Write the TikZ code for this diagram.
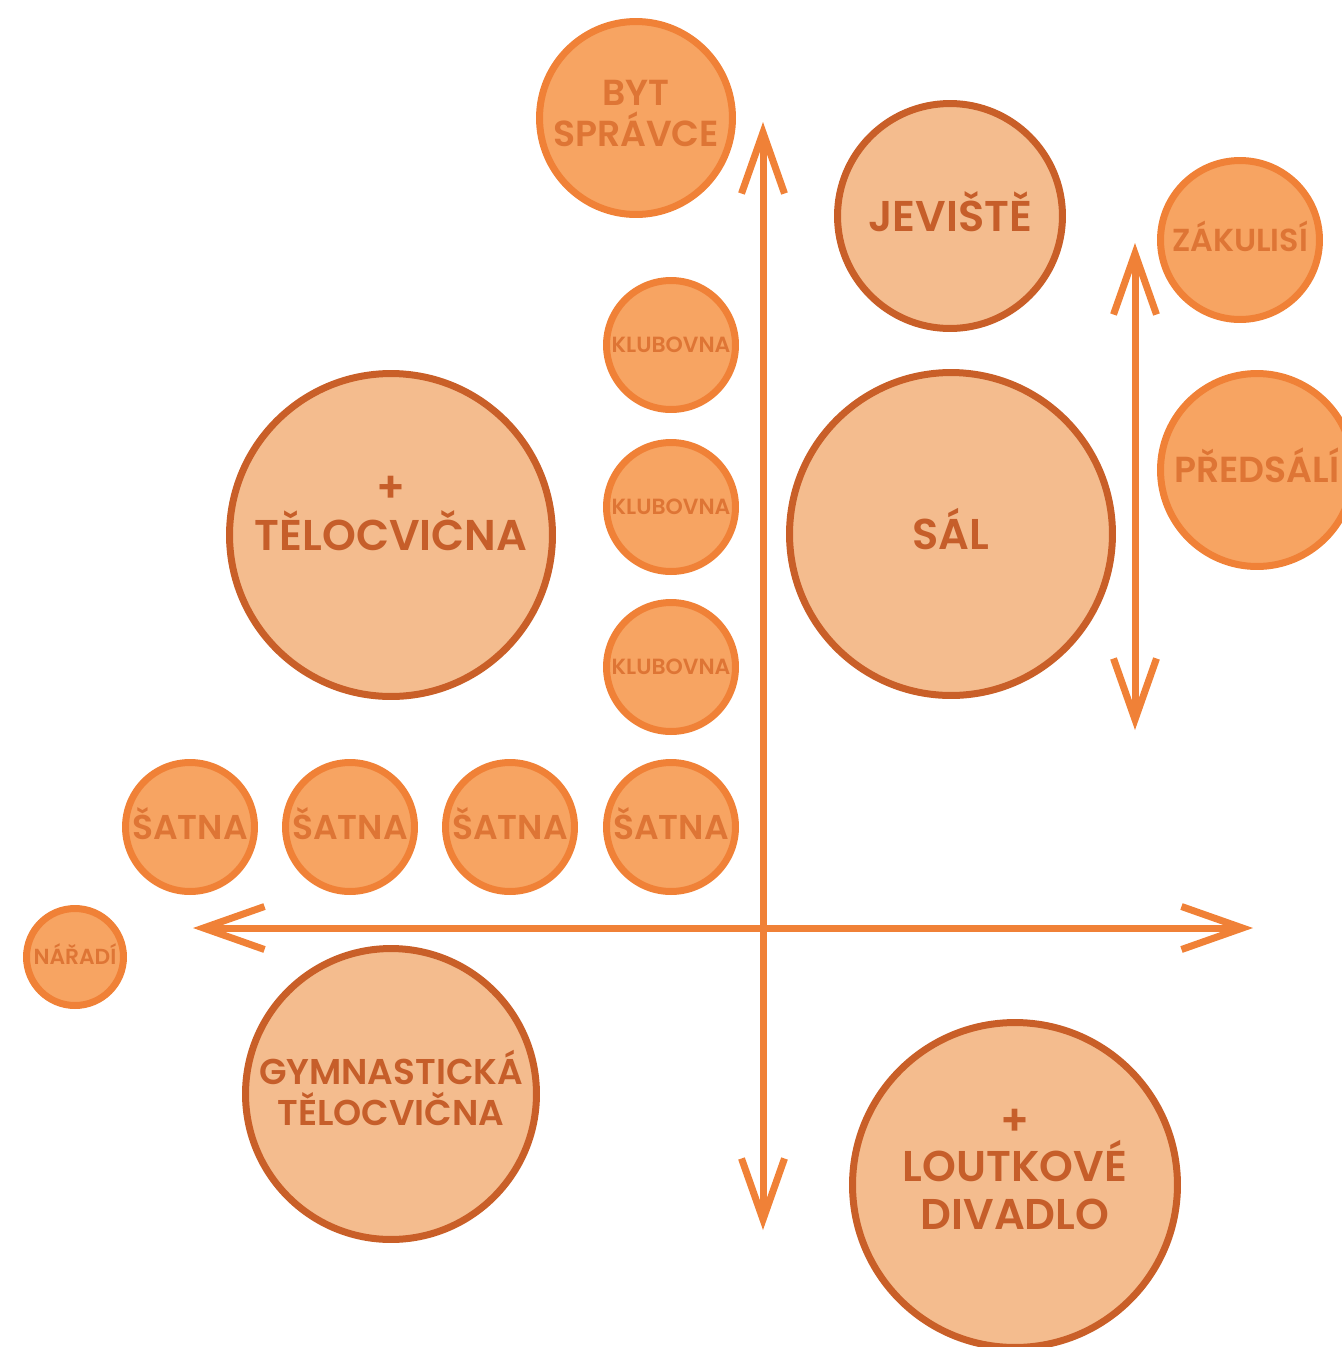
\documentclass[tikz,border=0pt]{standalone}
\usepackage{fontspec}
\setmainfont{Poppins}[UprightFont={* SemiBold}]
\usepackage{tikz}
\usetikzlibrary{positioning}
\usetikzlibrary{arrows.meta, shapes}

\definecolor{roomfill}{HTML}{F7A462}
\definecolor{roomline}{HTML}{F08137}
\definecolor{roomtext}{HTML}{DE7535}
\definecolor{hallfill}{HTML}{F4BC8E}
\definecolor{hallline}{HTML}{C95F28}
\definecolor{halltext}{HTML}{C65E2A}
\definecolor{axisline}{HTML}{F08137}

\begin{document}
\begin{tikzpicture}[x=0.02cm, y=-0.02cm]

\tikzset{fs/.style={
		font=\fontsize{#1}{#1}\selectfont,
		text height={0.7*#1pt}, text depth=0pt
	},
	multi/.style={text height={}, text depth={}},
	room/.style={
		circle,
		draw=roomline, fill=roomfill,
		line width=0.14cm,
		minimum size=#1,
		inner sep=0pt,
		align=center,
		text=roomtext,
		fs=19.6
	},
	room/.default=2.58cm,
	hall/.style={room=#1, draw=hallline, fill=hallfill, text=halltext, fs=24.5},
	hall/.default=6.46cm,
	plus/.style={text=halltext, font=\fontsize{24.5}{24.5}\selectfont},
	axis/.style={draw=axisline, line width=0.14cm, <->,
		>={Straight Barb[length=1.22cm, width=0.86cm, sharp]}}
}
\useasboundingbox (0,0) rectangle (1342,1347);

%upper right
\node[room=3.86cm, multi, font=\fontsize{20.6}{23.3}\selectfont] (byt) at (636,118) {BYT\\SPRÁVCE\rule[-5.7pt]{0pt}{0pt}};
\node[hall=4.5cm] (jeviste) at (950,216) {JEVIŠTĚ};
\node[room=3.18cm, fs=18.1] (zakulisi) at (1240,240) {ZÁKULISÍ};
\node[room=3.86cm, fs=20.6] (predsali) at (1257,470) {PŘEDSÁLÍ};
\node[hall] (sal) at (951,534) {SÁL};

%upper left
\node[hall, label={[plus, yshift=0.92cm]center:+}] (telocvicna) at (391,535) {TĚLOCVIČNA};
\foreach \y/\n in {345/1, 507/2, 667/3}
	\node[room, fs=12.5] (klubovna\n) at (671,\y) {KLUBOVNA};
\foreach \x/\n in {190/1, 350/2, 510/3, 671/4}
	\node[room] (satna\n) at (\x,827) {ŠATNA};
\node[room=1.94cm, fs=12.4] (naradi) at (75,957) {NÁŘADÍ};

%lower half
\node[hall=5.82cm, multi, font=\fontsize{20.4}{23.3}\selectfont] (gymnastika) at (391,1094) {GYMNASTICKÁ\\TĚLOCVIČNA\rule[-7.4pt]{0pt}{0pt}};
\node[hall=6.5cm, multi, font=\fontsize{24.5}{27.3}\selectfont, label={[plus, yshift=1.26cm]center:+}] (loutky) at (1015,1185) {LOUTKOVÉ\\DIVADLO};

%axes
\coordinate (vtop) at (763,122);
\coordinate (vbot) at (763,1230);
\coordinate (hleft) at (193,928);
\coordinate (hright) at (1253,928);
\coordinate (stop) at (1135,243);
\coordinate (sbot) at (1135,730);
\draw[axis] (vbot) -- (vtop);
\draw[axis] (hleft) -- (hright);
\draw[axis] (sbot) -- (stop);
\end{tikzpicture}
\end{document}
